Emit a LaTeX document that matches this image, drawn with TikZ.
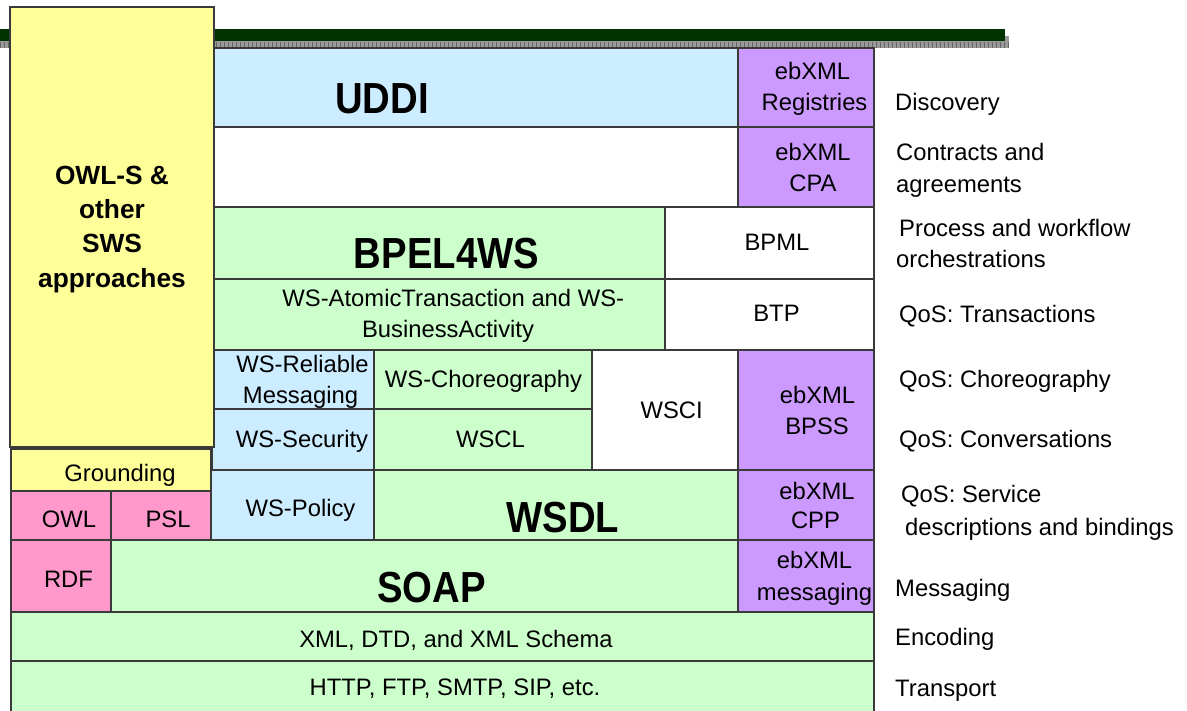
\documentclass[tikz,border=0pt]{standalone}
\usepackage{fontspec}
\setmainfont{Liberation Sans}
\definecolor{cyel}{HTML}{FFFF99}
\definecolor{cblue}{HTML}{CCECFF}
\definecolor{cgreen}{HTML}{CCFFCC}
\definecolor{cpur}{HTML}{CC99FF}
\definecolor{cpink}{HTML}{FF99CC}
\definecolor{cborder}{HTML}{3A3A3A}
\definecolor{cbar}{HTML}{003300}
\definecolor{cshadow}{HTML}{9A9A9A}
\definecolor{cshadowd}{HTML}{666666}
\newcommand\lay[6]{\node[box,fill=#6,minimum width={#4-#2},minimum height={#5-#3}] (#1) at (#2,#3) {};}
\begin{document}
\begin{tikzpicture}[x=1pt,y=-1pt,
  box/.style={draw=cborder,line width=1.3pt,inner sep=0pt,outer sep=0pt,anchor=north west},
  txt/.style={inner sep=0pt,anchor=base,font=\fontsize{23.8}{28}\selectfont},
  lbl/.style={inner sep=0pt,anchor=base west,font=\fontsize{23.8}{28}\selectfont},
  big/.style={inner sep=0pt,anchor=base,font=\fontsize{43.5}{50}\selectfont\bfseries},
  mid/.style={inner sep=0pt,anchor=base,font=\fontsize{26.3}{30}\selectfont\bfseries}]
\useasboundingbox (0,0) rectangle (1187,711);
% top bar with shadow
\fill[cshadow] (-5,36) rectangle (1009,48);
\draw[cshadowd,line width=6pt,dash pattern=on 1pt off 3pt] (-4,45) -- (1009,45);
\fill[cbar] (-5,29) rectangle (1005,41.5);
% layers
\lay{uddi}{214}{48}{738}{127}{cblue}
\lay{reg}{738}{48}{874}{127}{cpur}
\lay{contr}{214}{127}{738}{207}{white}
\lay{cpa}{738}{127}{874}{207}{cpur}
\lay{bpel}{214}{207}{665}{279}{cgreen}
\lay{bpml}{665}{207}{874}{279}{white}
\lay{atomic}{214}{279}{665}{350}{cgreen}
\lay{btp}{665}{279}{874}{350}{white}
\lay{rel}{214}{350}{374}{409}{cblue}
\lay{chor}{374}{350}{592}{409}{cgreen}
\lay{wsci}{592}{350}{738}{470}{white}
\lay{bpss}{738}{350}{874}{470}{cpur}
\lay{sec}{212}{409}{374}{470}{cblue}
\lay{wscl}{374}{409}{592}{470}{cgreen}
\lay{grnd}{11}{449}{211}{491}{cyel}
\lay{owl}{11}{491}{111}{540}{cpink}
\lay{psl}{111}{491}{211}{540}{cpink}
\lay{pol}{211}{470}{374}{540}{cblue}
\lay{wsdl}{374}{470}{738}{540}{cgreen}
\lay{cpp}{738}{470}{874}{540}{cpur}
\lay{rdf}{11}{540}{111}{612}{cpink}
\lay{soap}{111}{540}{738}{612}{cgreen}
\lay{msg}{738}{540}{874}{612}{cpur}
\lay{xml}{11}{612}{874}{661}{cgreen}
\lay{http}{11}{661}{874}{722}{cgreen}
\lay{owls}{10}{7}{214}{447}{cyel}
% texts in boxes
\node[mid] (tOwlA) at (112,185) {OWL-S \&};
\node[mid] (tOwlB) at (112,219) {other};
\node[mid] (tOwlC) at (112,253) {SWS};
\node[mid] (tOwlD) at (112,288) {approaches};
\node[big] (tUddi) at (382,114) {\scalebox{0.88}[1]{UDDI}};
\node[big] (tBpel) at (446.5,269) {\scalebox{0.88}[1]{BPEL4WS}};
\node[big] (tWsdl) at (563,532) {\scalebox{0.88}[1]{WSDL}};
\node[big] (tSoap) at (431.5,602) {\scalebox{0.88}[1]{SOAP}};
\node[txt] (tRegA) at (812.5,80) {ebXML};
\node[txt] (tRegB) at (814.5,111) {Registries};
\node[txt] (tCpaA) at (813,161) {ebXML};
\node[txt] (tCpaB) at (813,192) {CPA};
\node[txt] (tBpml) at (777,251) {BPML};
\node[txt] (tAtA) at (453.3,307) {WS-AtomicTransaction and WS-};
\node[txt] (tAtB) at (448,338) {BusinessActivity};
\node[txt] (tBtp) at (776.5,322) {BTP};
\node[txt] (tRelA) at (302.5,373) {WS-Reliable};
\node[txt] (tRelB) at (300.5,404) {Messaging};
\node[txt] (tChor) at (483.5,388) {WS-Choreography};
\node[txt] (tWsci) at (671.7,418) {WSCI};
\node[txt] (tBpssA) at (817.5,403) {ebXML};
\node[txt] (tBpssB) at (817,435) {BPSS};
\node[txt] (tSec) at (302,448) {WS-Security};
\node[txt] (tWscl) at (490.5,448) {WSCL};
\node[txt] (tGrnd) at (120,481) {Grounding};
\node[txt] (tOwl) at (69,527) {OWL};
\node[txt] (tPsl) at (168,527) {PSL};
\node[txt] (tPol) at (300.5,516) {WS-Policy};
\node[txt] (tCppA) at (817,499) {ebXML};
\node[txt] (tCppB) at (815.5,528) {CPP};
\node[txt] (tRdf) at (68.5,587) {RDF};
\node[txt] (tMsgA) at (814.5,568) {ebXML};
\node[txt] (tMsgB) at (814.5,600) {messaging};
\node[txt] (tXml) at (456,647) {XML, DTD, and XML Schema};
\node[txt] (tHttp) at (455,695) {HTTP, FTP, SMTP, SIP, etc.};
% right-hand labels
\node[lbl] (lDisc) at (895,111) {Discovery};
\node[lbl] (lConA) at (896,161) {Contracts and};
\node[lbl] (lConB) at (896,193) {agreements};
\node[lbl] (lProA) at (899,237) {Process and workflow};
\node[lbl] (lProB) at (896,268) {orchestrations};
\node[lbl] (lTra) at (899,323) {QoS: Transactions};
\node[lbl] (lCho) at (899,388) {QoS: Choreography};
\node[lbl] (lCon) at (899,447) {QoS: Conversations};
\node[lbl] (lSerA) at (901,502) {QoS: Service};
\node[lbl] (lSerB) at (905,535) {descriptions and bindings};
\node[lbl] (lMsg) at (895,596) {Messaging};
\node[lbl] (lEnc) at (895,645) {Encoding};
\node[lbl] (lTrn) at (895,696) {Transport};
\end{tikzpicture}
\end{document}
